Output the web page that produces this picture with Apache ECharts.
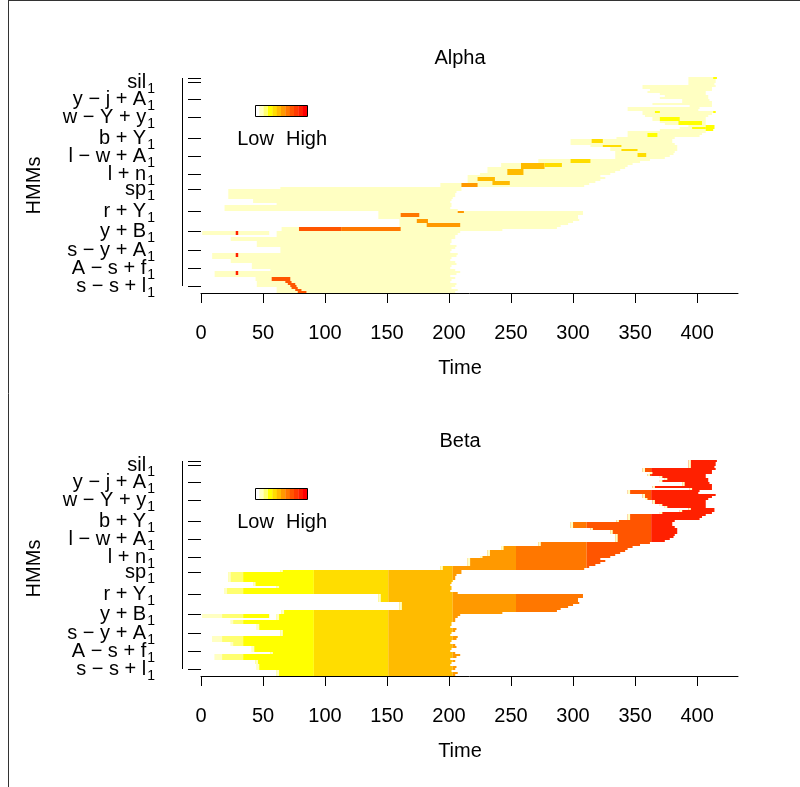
<!DOCTYPE html>
<html><head><meta charset="utf-8">
<script src="https://cdn.jsdelivr.net/npm/echarts@6/dist/echarts.min.js"></script>
<style>html,body{margin:0;padding:0;background:#fff}#c{width:800px;height:787px}</style>
</head><body><div id="c"></div>
<script>
// colour levels (Low -> High)
const palette = ['#FFFFFF','#FFFFC2','#FFFF70','#FFFF00','#FFDD00','#FFBB00','#FF9900','#FF7700','#FF5500','#FF3A00','#FF2000','#FF0000'];
const xTicks = [0,50,100,150,200,250,300,350,400];
const yTickValues = [3.5,12.5,21.5,31,41,52,59.5,68.5,77.5,88,97,105.5,107.5];
const yTickLabels = [['s − s + l','1'],['A − s + f','1'],['s − y + A','1'],['y + B','1'],['r + Y','1'],['sp','1'],['l + n','1'],['l − w + A','1'],['b + Y','1'],['w − Y + y','1'],['y − j + A','1'],['sil','1'],null];
const panelTitles = ['Alpha','Beta'];
// active segments: [row, tStart, tEnd]
const rowSegs = [
[0,61,205],[1,61,207],[2,61,202],[3,45,205],[4,45,206],[5,45,201],[6,44,202],[7,44,205],[8,11,201],[9,11,206],[10,11,209],[11,56,205],[12,41,201],[13,41,202],[14,41,206],[15,24,205],[16,24,201],[17,9,202],[18,9,206],[19,9,207],[20,64,201],[21,64,202],[22,64,205],[23,45,206],[24,45,201],[25,45,202],[26,24,202],[27,24,205],[28,61,205],[29,1,55],[29,61,207],[30,1,55],[30,61,209],[31,65,243],[32,65,287],[33,160,290],[34,160,296],[35,160,300],[36,160,305],[37,143,304],[38,143,304],[39,143,308],[40,143,308],
[41,19,207],[42,19,201],[43,19,202],[44,61,202],[45,42,201],[46,42,202],[47,22,203],[48,22,205],[49,22,205],[50,22,206],[51,22,210],[52,64,210],
[53,193,309],[54,193,313],[55,215,318],[56,215,322],[57,215,326],[58,215,322],[59,225,330],[60,231,334],[61,231,338],[62,231,342],[63,242,344],[64,242,348],[65,272,354],[66,272,362],[67,334,374],[68,334,378],[69,334,381],[70,334,382],[71,330,384],[72,330,384],[73,314,384],[74,298,382],[75,298,380],[76,298,380],[77,335,382],[78,344,402],[79,344,404],[80,344,407],[81,370,412],[82,386,414],[83,393,414],[84,374,407],[85,370,407],[86,364,407],[87,364,407],[88,358,409],[89,356,412],[90,356,415],[91,344,401],[92,344,402],[93,394,412],[94,364,412],[95,388,412],[96,388,410],[97,370,409],[98,374,409],[99,370,407],[100,360,407],[101,362,412],[102,356,412],[103,356,415],[104,393,414],[105,393,415],[106,393,415],[107,393,416]
];
// alpha: everything is level 1 except these: [row, t0, t1, level]
const alphaMarks = [
[0,78,85,8],[1,76,81,8],[2,73,78,8],[3,72,77,8],[4,70,76,8],[5,68,73,8],[6,57,72,8],[7,57,72,8],
[9,28,30,10],[10,28,30,10],[18,28,30,10],[19,28,30,10],[29,28,30,10],[30,28,30,10],
[31,79,113,8],[31,113,161,7],[32,79,113,8],[32,113,161,7],
[33,182,209,6],[34,182,209,6],[35,174,183,6],[36,174,183,6],[38,161,176,7],[39,161,176,7],[40,207,212,6],
[53,210,223,6],[54,210,223,6],[54,235,249,5],[55,235,249,5],[56,223,237,5],[57,223,237,5],
[59,247,260,5],[60,247,260,5],[61,247,260,5],[62,258,277,5],[63,258,277,5],[63,277,291,4],[64,258,277,5],[64,277,291,4],
[65,298,314,4],[66,298,314,4],[68,352,359,4],[69,352,359,4],[71,339,352,4],[73,324,339,4],[75,315,324,4],[76,315,324,4],
[78,360,368,3],[79,360,368,3],[81,407,413,3],[82,396,407,3],[82,407,414,3],[83,407,414,3],[84,385,404,3],[85,385,404,3],[86,370,386,3],[87,370,386,3],[90,366,370,3],[90,413,415,3],[107,413,416,3]
];
// beta: level by time band [t0, t1, level]
const betaBands = [[0,17,1],[17,34,2],[34,91,3],[91,151,4],[151,203,5],[203,254,6],[254,311,7],[311,363,8],[363,440,10]];
const betaLead = 2; // pale first cells of each row

const FONT = "'Liberation Sans', Arial, Helvetica, sans-serif";

function alphaCells(){
  const out = rowSegs.map(s => [s[0], s[1], s[2], 1]);
  alphaMarks.forEach(m => out.push(m.slice()));
  return out;
}
function betaCells(){
  const out = [];
  rowSegs.forEach(s => {
    betaBands.forEach(b => {
      const a = Math.max(s[1], b[0]), e = Math.min(s[2], b[1]);
      if (e > a) out.push([s[0], a, e, b[2]]);
    });
    out.push([s[0], s[1], Math.min(s[2], s[1] + betaLead), 1]);
  });
  return out;
}

function renderCell(params, api){
  const r = api.value(0), t0 = api.value(1), t1 = api.value(2), lv = api.value(3);
  const p0 = api.coord([t0, r + 1]), p1 = api.coord([t1, r]);
  return {type:'rect', shape:{x:p0[0], y:p0[1], width:p1[0]-p0[0], height:p1[1]-p0[1]}, style:{fill: palette[lv]}};
}
function renderAxisLine(params, api){
  const a = api.coord([0, api.value(0)]), b = api.coord([0, api.value(1)]);
  const x = Math.round(a[0] - 19) + 0.5;
  return {type:'line', shape:{x1:x, y1:a[1], x2:x, y2:b[1]}, style:{stroke:'#000', lineWidth:1}};
}

// labelled ticks, split in two alternating sets so that neighbouring labels never compete
const labelled = yTickValues.filter((v,i)=>yTickLabels[i]);
const labelSetA = labelled.filter((v,i)=>i % 2 === 0);
const labelSetB = labelled.filter((v,i)=>i % 2 === 1);
function yFmt(v){
  const i = yTickValues.findIndex(x => Math.abs(x - v) < 1e-6);
  if (i < 0 || !yTickLabels[i]) return '';
  return '{m|' + yTickLabels[i][0] + '}{s|' + yTickLabels[i][1] + '}';
}
const yRich = {m:{fontSize:20, fontFamily:FONT, color:'#000', lineHeight:14},
               s:{fontSize:14, fontFamily:FONT, color:'#000', lineHeight:1, padding:[14,0,0,1]}};

const gridTops = [77, 460];
const grids = [], xAxes = [], yAxes = [], series = [], titles = [], graphics = [];
gridTops.forEach((top, k) => {
  grids.push({left:201, top:top, width:537, height:217});
  xAxes.push({type:'value', gridIndex:k, min:0, max:433,
    axisLine:{show:true, lineStyle:{color:'#000', width:1}},
    axisTick:{show:true, customValues:xTicks, length:10, lineStyle:{color:'#000', width:1}},
    axisLabel:{customValues:xTicks, margin:29, fontSize:20, color:'#000', fontFamily:FONT, showMinLabel:true, showMaxLabel:true},
    splitLine:{show:false},
    name:'Time', nameLocation:'middle', nameGap:64,
    nameTextStyle:{fontSize:20, color:'#000', fontFamily:FONT, padding:[0,19,0,0]}});
  yAxes.push({type:'value', gridIndex:k, min:-0.5, max:108, offset:19, position:'left',
    axisLine:{show:false},
    axisTick:{show:true, customValues:yTickValues, length:13, lineStyle:{color:'#000', width:1}},
    axisLabel:{customValues:labelSetA, formatter:yFmt, margin:27, color:'#000', showMinLabel:true, showMaxLabel:true, rich:yRich},
    splitLine:{show:false},
    name:'HMMs', nameLocation:'middle', nameGap:138, nameRotate:90,
    nameTextStyle:{fontSize:20, color:'#000', fontFamily:FONT}});
  yAxes.push({type:'value', gridIndex:k, min:-0.5, max:108, offset:19, position:'left',
    axisLine:{show:false}, axisTick:{show:false}, splitLine:{show:false},
    axisLabel:{customValues:labelSetB, formatter:yFmt, margin:27, color:'#000', showMinLabel:true, showMaxLabel:true, rich:yRich}});
  series.push({type:'custom', xAxisIndex:k, yAxisIndex:2*k, renderItem:renderCell,
    encode:{x:[1,2], y:0}, data: k === 0 ? alphaCells() : betaCells(), silent:true});
  series.push({type:'custom', xAxisIndex:k, yAxisIndex:2*k, renderItem:renderAxisLine, clip:false,
    encode:{y:[0,1]}, data:[[yTickValues[0], yTickValues[yTickValues.length-1]]], silent:true});
  titles.push({text:panelTitles[k], left:460, top:top-29, textAlign:'center', padding:0,
    textStyle:{fontSize:20, fontWeight:'normal', color:'#000', fontFamily:FONT}});
  // colour key
  const lx = 255, ly = top + 28, cw = 52/palette.length;
  palette.forEach((c, i) => graphics.push({type:'rect', shape:{x:lx + i*cw, y:ly, width:cw+0.3, height:11}, style:{fill:c}, silent:true}));
  graphics.push({type:'rect', shape:{x:lx + 0.5, y:ly + 0.5, width:52, height:11}, style:{fill:null, stroke:'#000', lineWidth:1}, silent:true});
  graphics.push({type:'text', x:lx + 0.5, y:ly + 34, style:{text:'Low', fontSize:20, fontFamily:FONT, fill:'#000', align:'center', verticalAlign:'middle'}, silent:true});
  graphics.push({type:'text', x:lx + 51.5, y:ly + 34, style:{text:'High', fontSize:20, fontFamily:FONT, fill:'#000', align:'center', verticalAlign:'middle'}, silent:true});
});
graphics.push({type:'line', shape:{x1:8.5, y1:0, x2:8.5, y2:787}, style:{stroke:'#333', lineWidth:1}, silent:true});
graphics.push({type:'line', shape:{x1:8, y1:0.5, x2:800, y2:0.5}, style:{stroke:'#333', lineWidth:1}, silent:true});

const chart = echarts.init(document.getElementById('c'), null, {renderer:'canvas'});
chart.setOption({animation:false, backgroundColor:'#fff', title:titles, grid:grids, xAxis:xAxes, yAxis:yAxes, series:series, graphic:graphics});
</script></body></html>
